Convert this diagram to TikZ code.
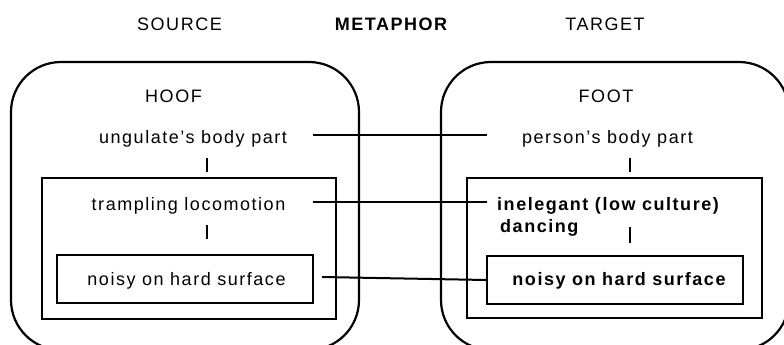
\documentclass[tikz,border=0pt]{standalone}
\usepackage{fontspec}
\setmainfont{Liberation Sans}[LetterSpace=8.5]
\begin{document}
\begin{tikzpicture}[x=1pt,y=-1pt,
  frame/.style={draw, line width=2.2pt, rounded corners=50pt},
  boxnode/.style={draw, line width=1.8pt, inner sep=0pt, minimum width=#1},
  link/.style={line width=2pt},
  tick/.style={line width=2.4pt},
  lbl/.style={inner sep=0pt, anchor=base, font=\fontsize{18}{21}\selectfont},
  lblb/.style={lbl, font=\fontsize{18}{21}\selectfont\bfseries}]
\useasboundingbox (0,0) rectangle (784,345);

% column headings
\node[lbl]  (src) at (179.5,31) {SOURCE};
\node[lblb] (met) at (391,31)   {METAPHOR};
\node[lbl]  (tgt) at (605,31)   {TARGET};

% outer rounded domains
\draw[frame] (11,62) rectangle (359,350);
\draw[frame] (441,62) rectangle (789,350);

% source side
\node[lbl] (hoof) at (173.5,102) {HOOF};
\node[lbl] (ung)  at (193,143)   {ungulate's body part};
\node[boxnode=294pt, minimum height=141pt] (smid) at (189,248.5) {};
\node[lbl] (tramp) at (188.5,210) {trampling locomotion};
\node[boxnode=256pt, minimum height=48pt] (sin) at (185,279) {};
\node[lbl] (snoisy) at (186.5,285) {noisy on hard surface};

% target side
\node[lbl] (foot)   at (606,102)   {FOOT};
\node[lbl] (person) at (607.5,143) {person's body part};
\node[boxnode=295pt, minimum height=140pt] (tmid) at (614.5,248) {};
\node[lblb, anchor=base west] (inel) at (497,210) {inelegant (low culture)};
\node[lblb, anchor=base west] (danc) at (500,232) {dancing};
\node[boxnode=256pt, minimum height=48pt] (tin) at (615,280) {};
\node[lblb] (tnoisy) at (619,285) {noisy on hard surface};

% connector end points
\coordinate (l1a) at (313,135);
\coordinate (l1b) at (487,135);
\coordinate (l2a) at (313,202);
\coordinate (l2b) at (487,202);
\coordinate (l3a) at (322,277);

% mappings between domains
\draw[link] (l1a) -- (l1b);
\draw[link] (l2a) -- (l2b);
\draw[link] (l3a) -- (tin.west);

% short hierarchy ticks
\coordinate (s1a) at (207,158); \coordinate (s1b) at (207,172);
\coordinate (s2a) at (207,225); \coordinate (s2b) at (207,239);
\coordinate (t1a) at (630,158); \coordinate (t1b) at (630,172);
\coordinate (t2a) at (630,227); \coordinate (t2b) at (630,243);
\draw[tick] (s1a) -- (s1b);
\draw[tick] (s2a) -- (s2b);
\draw[tick] (t1a) -- (t1b);
\draw[tick] (t2a) -- (t2b);
\end{tikzpicture}
\end{document}
